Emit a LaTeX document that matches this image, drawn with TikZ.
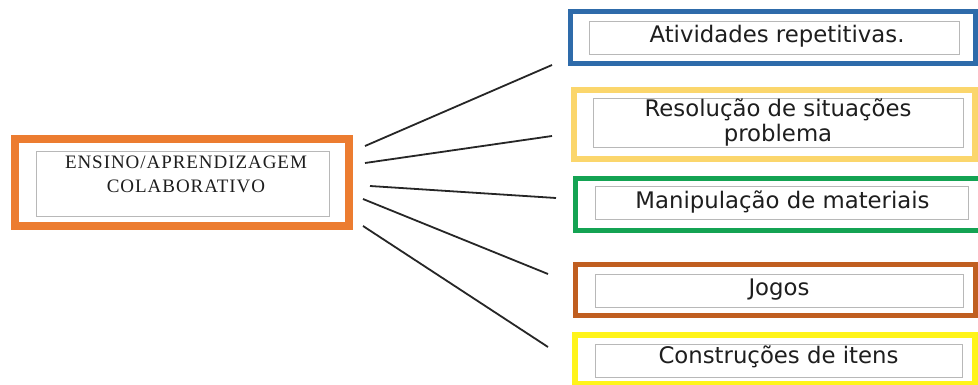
\documentclass[tikz,border=0pt]{standalone}
\usepackage{fontspec}
\setmainfont{Liberation Serif}
\newfontfamily\dejavu{DejaVu Sans}
\definecolor{cOrange}{HTML}{EC7C30}
\definecolor{cBlue}{HTML}{2E6BAA}
\definecolor{cGold}{HTML}{FBD66C}
\definecolor{cGreen}{HTML}{14A353}
\definecolor{cBrown}{HTML}{C05E20}
\definecolor{cYellow}{HTML}{FFF41A}
\definecolor{cGrayBox}{HTML}{B8B8B8}
\definecolor{cText}{HTML}{1E1E1E}
\begin{document}
\begin{tikzpicture}[x=1pt,y=-1pt,
  outerbox/.style={draw=#1,rectangle,inner sep=0pt,outer sep=0pt},
  innerbox/.style={draw=cGrayBox,line width=1pt,rectangle,inner sep=0pt,outer sep=0pt,fill=white},
  lefttext/.style={text=cText,font=\fontsize{19}{24}\selectfont\addfontfeature{LetterSpace=5},align=center,inner sep=0pt,anchor=base},
  righttext/.style={text=cText,font=\dejavu\fontsize{22.8}{25}\selectfont,align=center,inner sep=0pt,anchor=base},
  link/.style={draw=black!85,line width=1.8pt}]
\clip (0,0) rectangle (978,385);
\fill[white] (0,0) rectangle (978,385);
% left box
\node[outerbox=cOrange,line width=8pt,minimum width=334pt,minimum height=87pt] (L) at (182,182.5) {};
\node[innerbox,minimum width=293pt,minimum height=65pt] (Li) at (182.5,184.5) {};
\node[lefttext] (Lt) at (186,193) {ENSINO/APRENDIZAGEM\\COLABORATIVO};
% right boxes
\node[outerbox=cBlue,line width=5pt,minimum width=405pt,minimum height=52pt] (B1) at (772.5,38) {};
\node[innerbox,minimum width=370pt,minimum height=33pt] (B1i) at (774,38.5) {};
\node[righttext] (B1t) at (777,43) {Atividades repetitivas.};

\node[outerbox=cGold,line width=6pt,minimum width=401pt,minimum height=69pt] (B2) at (774.5,124.5) {};
\node[innerbox,minimum width=370pt,minimum height=49pt] (B2i) at (778,123.5) {};
\node[righttext] (B2t) at (778,142) {Resolução de situações\\problema};

\node[outerbox=cGreen,line width=5pt,minimum width=420pt,minimum height=51pt] (B3) at (785,204.5) {};
\node[innerbox,minimum width=373pt,minimum height=33pt] (B3i) at (781.5,203.5) {};
\node[righttext] (B3t) at (782.5,208) {Manipulação de materiais};

\node[outerbox=cBrown,line width=5pt,minimum width=400pt,minimum height=51pt] (B4) at (775,290) {};
\node[innerbox,minimum width=368pt,minimum height=33pt] (B4i) at (779,290.5) {};
\node[righttext] (B4t) at (779,295) {Jogos};

\node[outerbox=cYellow,line width=6pt,minimum width=400pt,minimum height=49pt] (B5) at (775,359) {};
\node[innerbox,minimum width=367pt,minimum height=33pt] (B5i) at (778.5,360.5) {};
\node[righttext] (B5t) at (778.5,363) {Construções de itens};
% connector end points
\coordinate (s1) at (365,146);
\coordinate (s2) at (365,163);
\coordinate (s3) at (370,186);
\coordinate (s4) at (363,199);
\coordinate (s5) at (363,226);
\coordinate (e1) at (552,65);
\coordinate (e2) at (552,136);
\coordinate (e3) at (556,198);
\coordinate (e4) at (548,274);
\coordinate (e5) at (548,347);
\draw[link] (s1) -- (e1);
\draw[link] (s2) -- (e2);
\draw[link] (s3) -- (e3);
\draw[link] (s4) -- (e4);
\draw[link] (s5) -- (e5);
\end{tikzpicture}
\end{document}
